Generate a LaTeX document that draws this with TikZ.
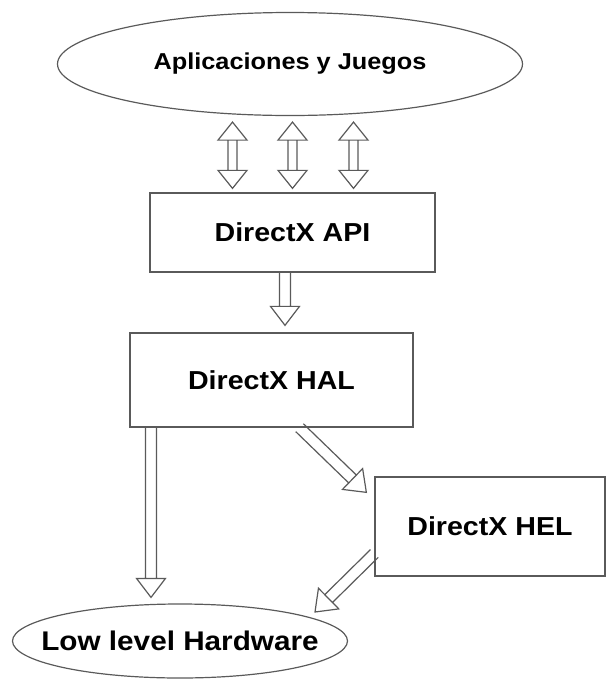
\documentclass[tikz,border=0pt]{standalone}
\usepackage{fontspec}
\newfontfamily\dxfont{Liberation Sans}[FakeStretch=1.1]
\usetikzlibrary{calc,shapes.geometric}

\definecolor{edgegray}{RGB}{90,90,90}

\tikzset{
  hollow/.style={draw=edgegray,line width=1.2pt,line join=miter,to path={
    let \p1=($(\tikztotarget)-(\tikztostart)$),\n1={atan2(\y1,\x1)},\n2={veclen(\x1,\y1)-19pt} in
    ($(\tikztostart)+(\n1+90:5.5pt)$) -- ($(\tikztostart)+(\n1:\n2)+(\n1+90:5.5pt)$)
    ($(\tikztostart)+(\n1-90:5.5pt)$) -- ($(\tikztostart)+(\n1:\n2)+(\n1-90:5.5pt)$)
    ($(\tikztostart)+(\n1:\n2)+(\n1+90:14.5pt)$) -- (\tikztotarget)
      -- ($(\tikztostart)+(\n1:\n2)+(\n1-90:14.5pt)$) -- cycle
  }},
  hollowboth/.style={draw=edgegray,line width=1.2pt,line join=miter,to path={
    let \p1=($(\tikztotarget)-(\tikztostart)$),\n1={atan2(\y1,\x1)},\n2={veclen(\x1,\y1)-18pt} in
    ($(\tikztostart)+(\n1:18pt)+(\n1+90:4.5pt)$) -- ($(\tikztostart)+(\n1:\n2)+(\n1+90:4.5pt)$)
    ($(\tikztostart)+(\n1:18pt)+(\n1-90:4.5pt)$) -- ($(\tikztostart)+(\n1:\n2)+(\n1-90:4.5pt)$)
    ($(\tikztostart)+(\n1:\n2)+(\n1+90:14.5pt)$) -- (\tikztotarget)
      -- ($(\tikztostart)+(\n1:\n2)+(\n1-90:14.5pt)$) -- cycle
    ($(\tikztostart)+(\n1:18pt)+(\n1+90:14.5pt)$) -- (\tikztostart)
      -- ($(\tikztostart)+(\n1:18pt)+(\n1-90:14.5pt)$) -- cycle
  }},
}

\begin{document}
\begin{tikzpicture}[x=1pt,y=-1pt,
    layer/.style={rectangle,draw=edgegray,line width=1.3pt,inner sep=0pt,
      font=\dxfont\bfseries\fontsize{26}{30}\selectfont},
    oval/.style={ellipse,draw=edgegray,line width=1.2pt,inner sep=0pt}]
  \useasboundingbox (0,0) rectangle (606,681);

  \node[oval,minimum width=465pt,minimum height=103pt,
    font=\dxfont\bfseries\fontsize{23}{27}\selectfont] (apps) at (290,64) {Aplicaciones y Juegos};
  \node[layer,minimum width=285pt,minimum height=79pt] (api) at (292.5,232.5) {DirectX API};
  \node[layer,minimum width=283pt,minimum height=94pt] (hal) at (271.5,380) {DirectX HAL};
  \node[layer,minimum width=230pt,minimum height=99pt] (hel) at (490,526.5) {DirectX HEL};
  \node[oval,minimum width=335pt,minimum height=74pt,inner xsep=-30pt,
    font=\dxfont\bfseries\fontsize{27}{31}\selectfont] (low) at (180,641) {Low level Hardware};

  % applications <-> API
  \foreach \dx in {-60,0,61}
    \draw[hollowboth] ($(api.north)+(\dx,-4)$) to ($(api.north |- apps.south)+(\dx,6)$);

  \draw[hollow] ($(api.south)+(-7.5,0)$) to ($(api.south |- hal.north)+(-7.5,-7)$);
  \draw[hollow] ($(hal.south)+(-120.5,0)$) to ($(hal.south |- low.north)+(-120.5,-6)$);
  \draw[hollow] ($(hal.south)+(28,0)$) to ($(hel.north west)+(-8,16)$);
  \draw[hollow] ($(hel.west)+(0,27)$) to ($(low.center)+(135,-29)$);
\end{tikzpicture}
\end{document}
